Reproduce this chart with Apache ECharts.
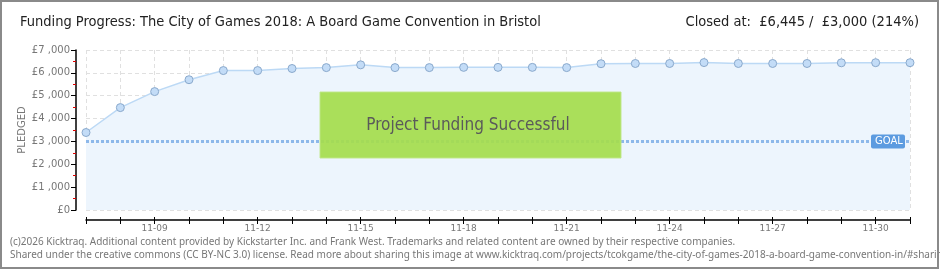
<!DOCTYPE html>
<html><head><meta charset="utf-8">
<script src="https://cdn.jsdelivr.net/npm/echarts@6/dist/echarts.min.js"></script>
<style>
html,body{margin:0;padding:0;background:#fff;}
#c{width:940px;height:270px;}
</style></head>
<body><div id="c"></div>
<script>
const dates = ['11-07','11-08','11-09','11-10','11-11','11-12','11-13','11-14','11-15','11-16','11-17','11-18','11-19','11-20','11-21','11-22','11-23','11-24','11-25','11-26','11-27','11-28','11-29','11-30','12-01'];
const pledged = [3390,4480,5180,5700,6100,6100,6190,6230,6350,6230,6230,6240,6240,6240,6230,6400,6410,6410,6450,6410,6410,6410,6440,6445,6445];
const goal = 3000;
const yTicks = [0,1000,2000,3000,4000,5000,6000,7000];
const titleText = 'Funding Progress: The City of Games 2018: A Board Game Convention in Bristol';
const closedText = 'Closed at:  £6,445 /  £3,000 (214%)';
const bannerText = 'Project Funding Successful';
const footer1 = '(c)2026 Kicktraq. Additional content provided by Kickstarter Inc. and Frank West. Trademarks and related content are owned by their respective companies.';
const footer2 = 'Shared under the creative commons (CC BY-NC 3.0) license. Read more about sharing this image at www.kicktraq.com/projects/tcokgame/the-city-of-games-2018-a-board-game-convention-in/#sharing';

const chart = echarts.init(document.getElementById('c'), null, {renderer:'canvas'});
const axFont = 'DejaVu Sans';
const titleFont = 'DejaVu Sans Condensed, DejaVu Sans, sans-serif';
chart.setOption({
  animation:false,
  grid:{left:86, right:30, top:50, bottom:60},
  graphic:[
    {type:'rect', shape:{x:1,y:1,width:937,height:267}, style:{fill:'none', stroke:'#8a8a8a', lineWidth:2}, z:100},
    {type:'text', x:20, y:15, style:{text:titleText, font:'14.5px '+titleFont, fill:'#222'}},
    {type:'text', x:919, y:15, style:{text:closedText, font:'14.5px '+titleFont, fill:'#222', align:'right'}},
    {type:'text', x:10, y:237, style:{text:footer1, font:'10px Noto Sans', fill:'#777'}},
    {type:'text', x:10, y:250, style:{text:footer2, font:'10px Noto Sans', fill:'#777'}},
    {type:'rect', z:50, shape:{x:320,y:92,width:301,height:66}, style:{fill:'#a5dd4e', stroke:'#c0e689', lineWidth:1, opacity:0.93}},
    {type:'text', z:51, x:468, y:126, style:{text:bannerText, font:'17px '+titleFont, fill:'#5a5a5a', align:'center', verticalAlign:'middle', textShadowColor:'#ffffff', textShadowOffsetX:1, textShadowOffsetY:1, textShadowBlur:0}}
  ],
  xAxis:[{
    type:'category', data:dates, boundaryGap:false, offset:10,
    axisLine:{show:true, onZero:false, lineStyle:{color:'#000', width:1.5}},
    axisTick:{show:true, interval:0, length:4, lineStyle:{color:'#000'}},
    axisLabel:{interval:(i)=>i%3===2, color:'#777', fontSize:9, fontFamily:axFont, margin:4},
    splitLine:{show:true, interval:0, lineStyle:{color:'#e0e0e0', type:[4,3]}}
  },{
    type:'category', data:dates, boundaryGap:false, offset:10, position:'bottom',
    axisLine:{show:false, onZero:false},
    axisTick:{show:true, inside:true, interval:0, length:3, lineStyle:{color:'#000'}},
    axisLabel:{show:false}, splitLine:{show:false}
  }],
  yAxis:{
    type:'value', min:0, max:7000, interval:1000, offset:10,
    name:'PLEDGED', nameLocation:'middle', nameGap:49, nameRotate:90, nameMoveOverlap:false,
    nameTextStyle:{color:'#777', fontSize:10, fontFamily:axFont, letterSpacing:2},
    axisLine:{show:true, onZero:false, lineStyle:{color:'#000', width:1.5}},
    axisTick:{show:true, length:5, lineStyle:{color:'#000'}},
    minorTick:{show:true, splitNumber:2, length:3, lineStyle:{color:'#e00000'}},
    axisLabel:{color:'#777', fontSize:10, fontFamily:axFont, margin:6,
      formatter:(v)=> yTicks.includes(v) ? '£'+v.toLocaleString('en-US').replace(',', ' ,') : ''},
    splitLine:{show:true, lineStyle:{color:'#e0e0e0', type:[4,3]}}
  },
  series:[{
    type:'line', data:pledged,
    symbol:'circle', symbolSize:8,
    itemStyle:{color:'#c3dcf7', borderColor:'#8aa9cc', borderWidth:1},
    lineStyle:{color:'#bcd9f5', width:1.5},
    areaStyle:{color:'#edf5fd', opacity:1},
    z:3,
    markLine:{
      silent:true, symbol:'none',
      data:[{yAxis:goal}],
      lineStyle:{color:'#8db8ea', width:3, type:[3,2]},
      label:{show:true, position:'end', distance:-39, formatter:'GOAL', color:'#fff', fontSize:10, fontFamily:axFont,
        backgroundColor:'#5c9be0', borderRadius:2, padding:[2,3,2,4], width:27}
    }
  }]
});
</script></body></html>
